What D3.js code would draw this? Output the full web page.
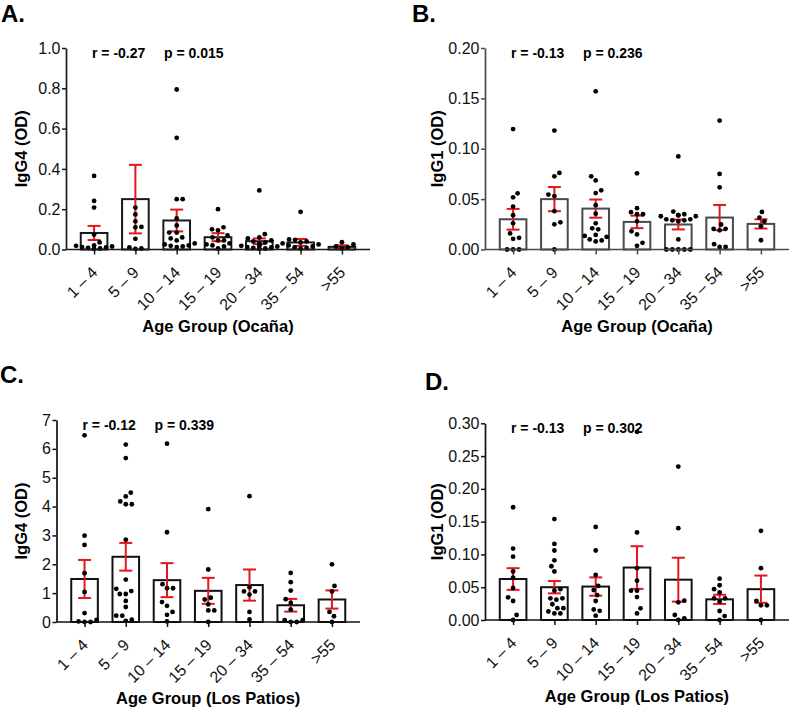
<!DOCTYPE html>
<html>
<head>
<meta charset="utf-8">
<script src="https://cdn.jsdelivr.net/npm/d3@7"></script>
<style>
  body { margin: 0; background: #fff; }
  svg text { font-family: "Liberation Sans", Arial, sans-serif; }
</style>
</head>
<body>
<svg id="fig" width="790" height="709"></svg>
<script>
const ageGroups = ["1 – 4", "5 – 9", "10 – 14", "15 – 19", "20 – 34", "35 – 54", ">55"];

// A. IgG4, Ocaña
const ocanaIgG4Mean = [0.082, 0.25, 0.144, 0.061, 0.041, 0.035, 0.013];
const ocanaIgG4Sem = [0.035, 0.17, 0.054, 0.02, 0.014, 0.017, 0.008];
const ocanaIgG4Points = [
  [0.365, 0.241, 0.208, 0.074, 0.035, 0.02, 0.018, 0.015, 0.012, 0.01, 0.008, 0.005, 0.003],
  [0.208, 0.174, 0.14, 0.112, 0.11, 0.053, 0.01, 0.005, 0.003],
  [0.794, 0.554, 0.25, 0.25, 0.154, 0.119, 0.084, 0.084, 0.06, 0.055, 0.045, 0.03, 0.025, 0.02, 0.018, 0.015, 0.012],
  [0.2, 0.11, 0.1, 0.095, 0.07, 0.06, 0.045, 0.045, 0.03, 0.025, 0.02, 0.015, 0.005],
  [0.293, 0.076, 0.06, 0.055, 0.045, 0.04, 0.035, 0.03, 0.025, 0.02, 0.02, 0.018, 0.015, 0.012, 0.01, 0.008, 0.005, 0.003],
  [0.187, 0.05, 0.048, 0.04, 0.035, 0.03, 0.025, 0.02, 0.015, 0.01, 0.008, 0.005],
  [0.036, 0.025, 0.015, 0.01, 0.005]
];

// B. IgG1, Ocaña
const ocanaIgG1Mean = [0.030, 0.050, 0.0406, 0.0274, 0.0248, 0.0317, 0.0254];
const ocanaIgG1Sem = [0.0103, 0.012, 0.009, 0.0062, 0.0049, 0.0125, 0.0046];
const ocanaIgG1Points = [
  [0.1195, 0.0558, 0.0518, 0.0426, 0.034, 0.026, 0.016, 0.0116, 0.0106, 0, 0, 0],
  [0.118, 0.076, 0.0726, 0.0545, 0.053, 0.038, 0.027, 0.025, 0],
  [0.157, 0.0726, 0.0686, 0.0587, 0.056, 0.044, 0.0356, 0.026, 0.021, 0.02, 0.0145, 0.0135, 0.0125, 0.01, 0.009, 0.008],
  [0.0756, 0.041, 0.037, 0.035, 0.035, 0.028, 0.018, 0.015, 0.0066, 0.0036],
  [0.0924, 0.0376, 0.035, 0.034, 0.034, 0.033, 0.033, 0.03, 0.03, 0.029, 0.029, 0.028, 0.01, 0, 0, 0, 0, 0],
  [0.128, 0.075, 0.0617, 0.0248, 0.0205, 0.0205, 0.019, 0.0053, 0.0026, 0.0026],
  [0.0373, 0.0317, 0.028, 0.023, 0.0092]
];

// C. IgG4, Los Patios
const patiosIgG4Mean = [1.49, 2.26, 1.45, 1.08, 1.28, 0.58, 0.78];
const patiosIgG4Sem = [0.66, 0.48, 0.59, 0.45, 0.54, 0.22, 0.315];
const patiosIgG4Points = [
  [6.47, 2.99, 2.67, 1.69, 1.04, 0.31, 0.07, 0.02, 0, 0],
  [6.15, 5.68, 4.48, 4.35, 4.18, 4.08, 4.08, 2.85, 1.47, 1.15, 1.07, 0.97, 0.97, 0.73, 0.52, 0.22, 0.22, 0.08, 0.04],
  [6.18, 3.11, 1.31, 1.17, 1.17, 0.69, 0.56, 0.35, 0.25, 0.02],
  [3.91, 1.82, 0.84, 0.78, 0.61, 0.4, 0.4, 0],
  [4.36, 1.2, 1.06, 1.06, 0.95, 0.35, 0.09],
  [1.7, 1.38, 1.09, 0.79, 0.66, 0.43, 0.06, 0.06, 0, 0],
  [2.0, 1.25, 1.06, 0.35, 0.2, 0]
];

// D. IgG1, Los Patios
const patiosIgG1Mean = [0.0625, 0.050, 0.051, 0.080, 0.0615, 0.0315, 0.047];
const patiosIgG1Sem = [0.0165, 0.0094, 0.014, 0.0325, 0.0335, 0.007, 0.0208];
const patiosIgG1Points = [
  [0.172, 0.109, 0.0966, 0.074, 0.0645, 0.0488, 0.0346, 0.029, 0.0076, 0],
  [0.154, 0.116, 0.106, 0.091, 0.082, 0.074, 0.047, 0.045, 0.033, 0.033, 0.031, 0.024, 0.018, 0.018, 0.013, 0.01, 0.01],
  [0.142, 0.106, 0.0686, 0.052, 0.0457, 0.038, 0.029, 0.016, 0.014, 0.0066],
  [0.287, 0.1336, 0.079, 0.06, 0.0447, 0.0447, 0.035, 0.0178, 0.01],
  [0.234, 0.14, 0.0295, 0.027, 0.0076, 0.0025, 0],
  [0.063, 0.053, 0.047, 0.042, 0.033, 0.033, 0.028, 0.0137, 0.006, 0],
  [0.136, 0.079, 0.029, 0.0224, 0.0224, 0]
];

const ticksA = [0, 0.2, 0.4, 0.6, 0.8, 1.0];
const ticksB = [0, 0.05, 0.10, 0.15, 0.20];
const ticksC = [0, 1, 2, 3, 4, 5, 6, 7];
const ticksD = [0, 0.05, 0.10, 0.15, 0.20, 0.25, 0.30];

const RED = "#e3161d";
const svg = d3.select("#fig");

// spread dots sideways so they don't sit on each other
function swarm(pys, minDist) {
  const order = pys.map((py, i) => i).sort((a, b) => pys[b] - pys[a]);
  const placed = [];
  const out = new Array(pys.length);
  let flip = 1;
  order.forEach((i) => {
    const py = pys[i];
    let off = 0;
    for (let k = 0; k <= 80; k++) {
      const cand = k === 0 ? 0 : (k % 2 ? 1 : -1) * flip * Math.ceil(k / 2) * 0.5;
      const ok = placed.every((p) => {
        const dx = p.x - cand, dy = p.y - py;
        return dx * dx + dy * dy >= minDist * minDist;
      });
      if (ok) { off = cand; break; }
    }
    if (off !== 0) flip = -flip;
    placed.push({ x: off, y: py });
    out[i] = off;
  });
  return out;
}

function drawPanel(p) {
  const g = svg.append("g");
  const x = d3.scalePoint().domain(ageGroups).range([p.x0, p.x1]).padding(0.68);
  const y = d3.scaleLinear().domain([0, p.yMax]).range([p.yBottom, p.yTop]);
  const bw = x.step() * 0.645;

  const rows = ageGroups.map((a, i) => ({ group: a, mean: p.mean[i], sem: p.sem[i], pts: p.points[i] }));

  // bars
  g.selectAll(".bar")
    .data(rows)
    .enter()
    .append("rect")
    .attr("class", "bar")
    .attr("x", (d) => x(d.group) - bw / 2)
    .attr("width", bw)
    .attr("y", (d) => y(d.mean))
    .attr("height", (d) => p.yBottom - y(d.mean))
    .attr("fill", "#fff")
    .attr("stroke", p.ink)
    .attr("stroke-width", 2);

  // error bars
  const eb = g.selectAll(".err").data(rows).enter().append("g").attr("class", "err")
    .attr("stroke", RED).attr("stroke-width", 2).attr("fill", "none");
  eb.append("line")
    .attr("x1", (d) => x(d.group)).attr("x2", (d) => x(d.group))
    .attr("y1", (d) => y(d.mean - d.sem)).attr("y2", (d) => y(d.mean + d.sem));
  eb.append("line")
    .attr("x1", (d) => x(d.group) - 6.5).attr("x2", (d) => x(d.group) + 6.5)
    .attr("y1", (d) => y(d.mean + d.sem)).attr("y2", (d) => y(d.mean + d.sem));
  eb.append("line")
    .attr("x1", (d) => x(d.group) - 6.5).attr("x2", (d) => x(d.group) + 6.5)
    .attr("y1", (d) => y(d.mean - d.sem)).attr("y2", (d) => y(d.mean - d.sem));

  // dots
  rows.forEach((r) => {
    const pys = r.pts.map((v) => y(v));
    const offs = swarm(pys, 6);
    g.selectAll(null)
      .data(r.pts)
      .enter()
      .append("circle")
      .attr("cx", (v, i) => x(r.group) + offs[i])
      .attr("cy", (v) => y(v))
      .attr("r", 2.4)
      .attr("fill", "#000");
  });

  // axes
  const yAxis = g.append("g")
    .attr("transform", `translate(${p.x0},0)`)
    .call(d3.axisLeft(y).tickValues(p.ticks).tickFormat(p.fmt).tickSize(4).tickPadding(1.5).tickSizeOuter(0));
  const xAxis = g.append("g")
    .attr("transform", `translate(0,${p.yBottom})`)
    .call(d3.axisBottom(x).tickSize(5).tickSizeOuter(0));
  [yAxis, xAxis].forEach((a) => {
    a.select(".domain").attr("stroke", p.ink).attr("stroke-width", 1.7);
    a.selectAll(".tick line").attr("stroke", p.ink).attr("stroke-width", 1.5);
    a.selectAll("text").attr("fill", "#111").style("font-size", "16px");
  });
  xAxis.select(".domain").attr("d", `M${p.x0},0H${p.x1}`);
  xAxis.selectAll("text")
    .attr("x", 0).attr("y", 0).attr("dy", 0)
    .attr("text-anchor", "end")
    .attr("transform", "translate(4,24) rotate(-45)");

  // titles
  g.append("text")
    .attr("x", (p.x0 + p.x1) / 2).attr("y", p.titleY)
    .attr("text-anchor", "middle")
    .style("font-size", "16.5px").style("font-weight", "bold")
    .text(p.xTitle);
  g.append("text")
    .attr("transform", `translate(${p.yTitleX},${(p.yTop + p.yBottom) / 2}) rotate(-90)`)
    .attr("text-anchor", "middle")
    .attr("dy", "0.35em")
    .style("font-size", "16.5px").style("font-weight", "bold")
    .text(p.yTitle);

  // stats
  g.append("text").attr("x", p.x0 + 26).attr("y", p.yTop + 10)
    .style("font-size", "14px").style("font-weight", "bold").text(p.r);
  g.append("text").attr("x", p.x0 + 98).attr("y", p.yTop + 10)
    .style("font-size", "14px").style("font-weight", "bold").text(p.p);

  // panel letter
  g.append("text").attr("x", p.labelX).attr("y", p.labelY)
    .style("font-size", "24px").style("font-weight", "bold").text(p.label);
}

drawPanel({
  label: "A.", labelX: 1, labelY: 22,
  x0: 66, x1: 370, yTop: 48, yBottom: 249.5, yMax: 1.0,
  ticks: ticksA, fmt: d3.format(".1f"),
  mean: ocanaIgG4Mean, sem: ocanaIgG4Sem, points: ocanaIgG4Points,
  ink: "#1a1a1a", xTitle: "Age Group (Ocaña)", yTitle: "IgG4 (OD)",
  titleY: 332, yTitleX: 21, r: "r = -0.27", p: "p = 0.015"
});
drawPanel({
  label: "B.", labelX: 412, labelY: 22,
  x0: 485, x1: 789, yTop: 48, yBottom: 249.5, yMax: 0.20,
  ticks: ticksB, fmt: d3.format(".2f"),
  mean: ocanaIgG1Mean, sem: ocanaIgG1Sem, points: ocanaIgG1Points,
  ink: "#4a4a4a", xTitle: "Age Group (Ocaña)", yTitle: "IgG1 (OD)",
  titleY: 332, yTitleX: 437, r: "r = -0.13", p: "p = 0.236"
});
drawPanel({
  label: "C.", labelX: 0, labelY: 383,
  x0: 56.5, x1: 360, yTop: 420, yBottom: 622, yMax: 7,
  ticks: ticksC, fmt: d3.format("d"),
  mean: patiosIgG4Mean, sem: patiosIgG4Sem, points: patiosIgG4Points,
  ink: "#111", xTitle: "Age Group (Los Patios)", yTitle: "IgG4 (OD)",
  titleY: 703.5, yTitleX: 21, r: "r = -0.12", p: "p = 0.339"
});
drawPanel({
  label: "D.", labelX: 425, labelY: 390,
  x0: 485, x1: 789, yTop: 423.3, yBottom: 620, yMax: 0.30,
  ticks: ticksD, fmt: d3.format(".2f"),
  mean: patiosIgG1Mean, sem: patiosIgG1Sem, points: patiosIgG1Points,
  ink: "#111", xTitle: "Age Group (Los Patios)", yTitle: "IgG1 (OD)",
  titleY: 702, yTitleX: 437, r: "r = -0.13", p: "p = 0.302"
});
</script>
</body>
</html>
